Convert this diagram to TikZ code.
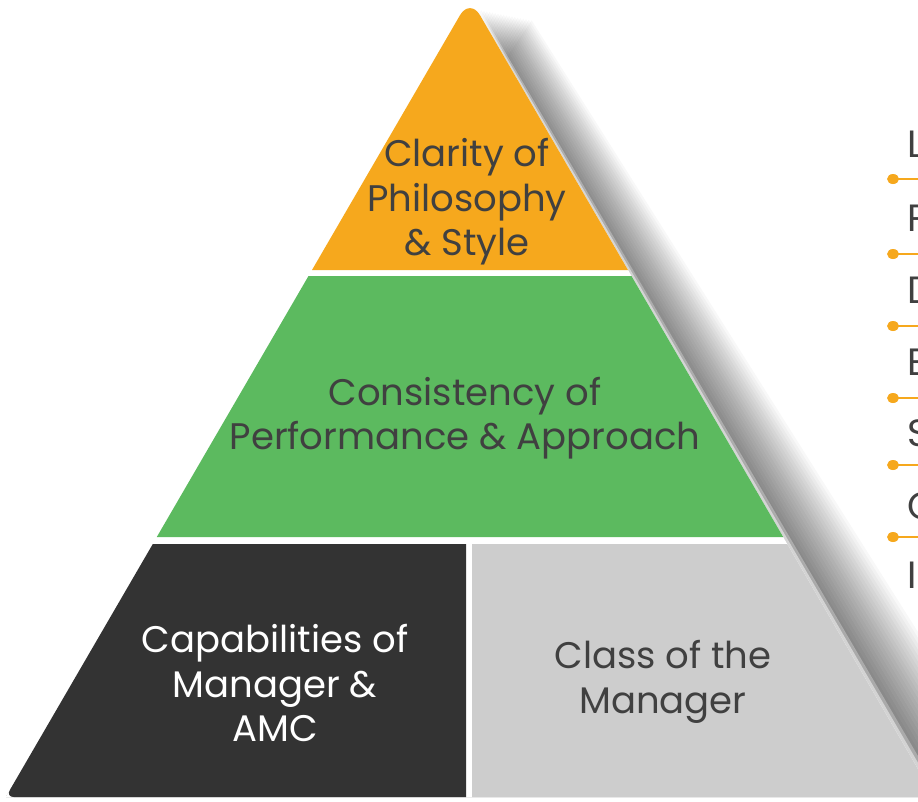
\documentclass[tikz,border=0pt]{standalone}
\usepackage{fontspec}
\setmainfont{Poppins}
\definecolor{porange}{HTML}{F6A81D}
\definecolor{pgreen}{HTML}{5CBA5F}
\definecolor{pdark}{HTML}{333333}
\definecolor{plight}{HTML}{CDCDCD}
\definecolor{ptext}{HTML}{404040}
\tikzset{
  lbl/.style={align=center, inner sep=0pt, font=\fontsize{37}{44.5}\selectfont, text=ptext},
  sidelbl/.style={anchor=base west, inner sep=0pt, font=\fontsize{38}{44}\selectfont, text=ptext},
  dotline/.style={draw=porange, line width=1.5pt},
  dotmark/.style={ellipse, fill=porange, inner sep=0pt, minimum width=12pt, minimum height=10pt},
}
\usetikzlibrary{shapes.geometric}
\begin{document}
\begin{tikzpicture}[x=1pt,y=-1pt]
\useasboundingbox (0,0) rectangle (918,801);
\fill[white] (0,0) rectangle (918,801);
% shadow
\foreach \k in {1,...,22}{
  \pgfmathsetmacro{\a}{2.8*\k}
  \pgfmathsetmacro{\b}{4.0*\k}
  \fill[black, opacity=0.026]
    (470+\a,8+0.2*\a) -- (934.2+\b,797) -- (5.8,797) -- cycle;
}
% white underlay with soft edge
\fill[white, opacity=0.3] (470,-8) -- (942,797) -- (5.8,797) -- cycle;
\fill[white, opacity=0.5] (470,-5) -- (938,797) -- (5.8,797) -- cycle;
\fill[white] (470,-2) -- (934.2,797) -- (5.8,797) -- cycle;
% bands
\fill[porange] (312,270) [rounded corners=20pt] -- (470,-2) [sharp corners] -- (628,270) -- cycle;
\fill[pgreen] (308.5,276) -- (631.5,276) -- (783.2,537) -- (156.8,537) -- cycle;
\fill[pdark] (152.8,544) -- (466,544) -- (466,797) [rounded corners=8pt] -- (5.8,797) [sharp corners] -- cycle;
\fill[plight] (472,544) -- (787.2,544) -- (934.2,797) -- (472,797) -- cycle;
% labels
\node[lbl] (clarity) at (467,202) {Clarity of\\Philosophy\\\& Style};
\node[lbl] (consist) at (465,418) {Consistency of\\Performance \& Approach};
\node[lbl, text=white] (capab) at (275,683) {Capabilities of\\Manager \&\\AMC};
\node[lbl] (class) at (663,682) {Class of the\\Manager};
% side list
\foreach \y/\t/\n in {157/L/a,231/P/b,303/D/c,375/E/d,446/S/e,519/C/f,588/I/g}{
  \node[sidelbl] (side\n) at (907,\y) {\t};
}
\foreach \y/\n in {179/a,254/b,326/c,398/d,465/e,537/f}{
  \node[dotmark] (dot\n) at (893,\y) {};
  \coordinate (end\n) at (930,\y);
  \draw[dotline] (dot\n.center) -- (end\n);
}
\end{tikzpicture}
\end{document}
